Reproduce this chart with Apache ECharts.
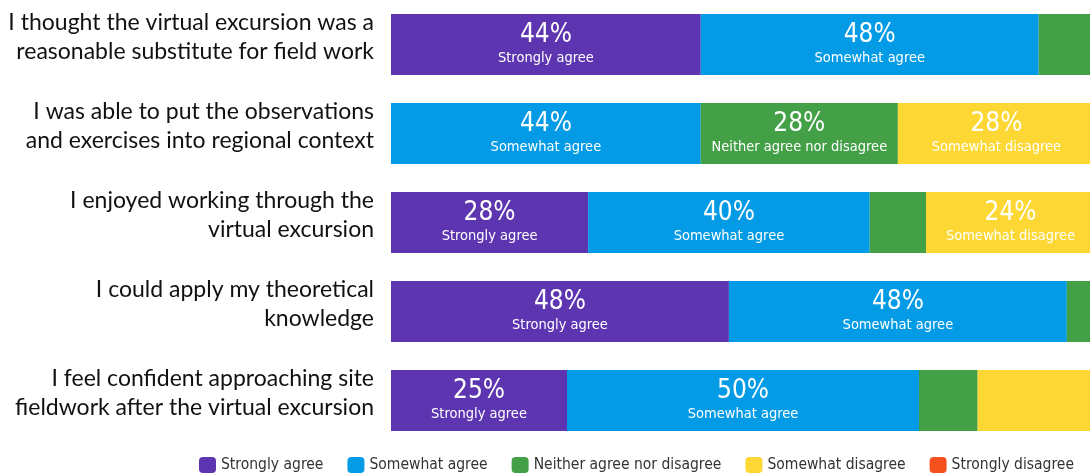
<!DOCTYPE html>
<html>
<head>
<meta charset="utf-8">
<script src="https://cdn.jsdelivr.net/npm/echarts@6/dist/echarts.min.js"></script>
<style>
html,body{margin:0;padding:0;background:#fff;overflow:hidden;width:1090px;height:476px;}
#c{width:1095px;height:476px;}
</style>
</head>
<body>
<div id="c"></div>
<script>
const categories = [
  "I thought the virtual excursion was a\nreasonable substitute for field work",
  "I was able to put the observations\nand exercises into regional context",
  "I enjoyed working through the\nvirtual excursion",
  "I could apply my theoretical\nknowledge",
  "I feel confident approaching site\nfieldwork after the virtual excursion"
];
const seriesNames = ["Strongly agree","Somewhat agree","Neither agree nor disagree","Somewhat disagree","Strongly disagree"];
const stronglyAgree    = [44, 0, 28, 48, 25];
const somewhatAgree    = [48, 44, 40, 48, 50];
const neither          = [8, 28, 8, 4, 8.33];
const somewhatDisagree = [0, 28, 24, 0, 16.67];
const stronglyDisagree = [0, 0, 0, 0, 0];
const colors = ["#5E35B1","#039BE5","#43A047","#FDD835","#F4511E"];

const values = [stronglyAgree, somewhatAgree, neither, somewhatDisagree, stronglyDisagree];
const labelFont = "'DejaVu Sans Condensed','Liberation Sans Narrow',sans-serif";

const chart = echarts.init(document.getElementById('c'));
chart.setOption({
  animation:false,
  grid:{left:391, right:0, top:0, bottom:31},
  legend:{
    left:199, top:457, width:1000, padding:0, itemWidth:17, itemHeight:16, itemGap:24,
    icon:'roundRect',
    textStyle:{fontFamily:labelFont, fontSize:15.5, color:'#333'},
    data:seriesNames
  },
  xAxis:{type:'value', min:0, max:100, show:false},
  yAxis:{
    type:'category', inverse:true, data:categories,
    axisLine:{show:false}, axisTick:{show:false},
    axisLabel:{
      margin:17, fontFamily:"Lato, 'Open Sans', sans-serif", fontSize:23, color:'#111',
      lineHeight:29, align:'right',
      formatter: v => v + '\n{s|}',
      rich:{ s:{lineHeight:14, fontSize:10} }
    }
  },
  series: seriesNames.map((n,i)=>({
    name:n, type:'bar', stack:'all', barWidth:61,
    itemStyle:{color:colors[i]},
    data: values[i],
    label:{
      show:true, position:'inside', color:'#fff',
      formatter: p => p.value >= 20 ? '{p|' + Math.round(p.value) + '%}\n{n|' + n + '}' : '',
      rich:{
        p:{fontFamily:labelFont, fontSize:26, lineHeight:27, color:'#fff'},
        n:{fontFamily:labelFont, fontSize:14.5, lineHeight:18, color:'#fff'}
      }
    }
  }))
});
</script>
</body>
</html>
